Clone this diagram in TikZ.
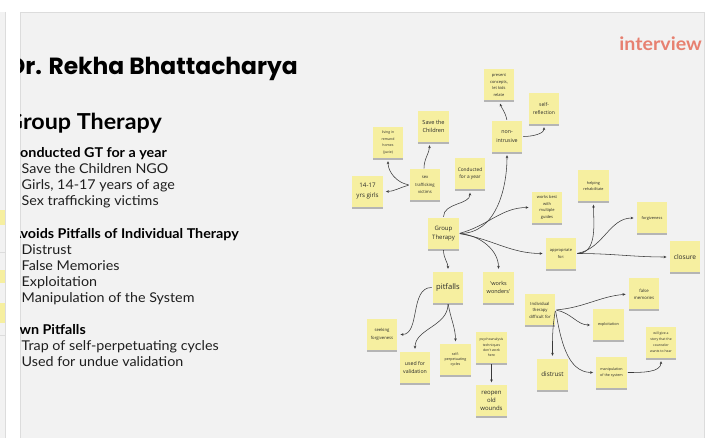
\documentclass[tikz,border=0pt]{standalone}
\usepackage{fontspec}
\setmainfont{Lato}[FakeStretch=1.06]
\newfontfamily\titlefont{Poppins}
\newfontfamily\notefont{Open Sans}
\usetikzlibrary{arrows.meta,shadows}

\definecolor{panel}{RGB}{242,242,242}
\definecolor{panelline}{RGB}{220,220,220}
\definecolor{stickyyellow}{RGB}{246,239,160}
\definecolor{inktext}{RGB}{40,40,40}
\definecolor{wirecol}{RGB}{58,58,58}
\definecolor{salmon}{RGB}{231,128,112}

\tikzset{
  note/.style={fill=stickyyellow, draw=none, minimum width=30.5pt, minimum height=31pt,
    inner sep=0pt, align=center, text=inktext,
    drop shadow={shadow xshift=0pt, shadow yshift=-1.6pt, opacity=0.25, fill=black}},
  fs/.style 2 args={font=\notefont\fontsize{#1}{#2}\selectfont},
  link/.style={draw=wirecol, line width=0.55pt, -{Stealth[length=3pt,width=2.6pt]},
    shorten >=3pt, shorten <=1pt},
  body/.style={anchor=base west, font=\fontsize{13.5}{16}\selectfont, text=black!88, inner sep=0pt},
  head/.style={anchor=base east, font=\bfseries\fontsize{13.5}{16}\selectfont, text=black, inner sep=0pt},
}

\begin{document}
\begin{tikzpicture}[x=1pt, y=-1pt]
  % page and board frames
  \fill[white] (0,0) rectangle (713,438);
  \useasboundingbox (0,0) rectangle (713,438);
  \fill[panel] (0,12) rectangle (5,438);
  \draw[panelline] (5,12) -- (5,438);
  \fill[stickyyellow] (0,210) rectangle (5,225);
  \fill[stickyyellow] (0,270) rectangle (5,283);
  \fill[stickyyellow] (0,303) rectangle (5,323);
  \draw[panelline] (0,252) -- (5,252);
  \draw[panelline] (0,335) -- (5,335);
  \fill[panel] (20,12) rectangle (704,438);
  \draw[panelline] (20,438) -- (20,12) -- (704,12) -- (704,438);

  \begin{scope}
    \clip (20.5,12.5) rectangle (703.5,438);
    \node[anchor=base east, font=\titlefont\bfseries\fontsize{23.4}{24}\selectfont, inner sep=0pt] (title) at (298,75) {Dr. Rekha Bhattacharya};
    \node[anchor=base east, font=\bfseries\fontsize{18.5}{19}\selectfont, text=salmon, inner sep=0pt] (tag) at (702,51) {interview};
    \node[anchor=base east, font=\bfseries\fontsize{22}{22}\selectfont, inner sep=0pt] (gthead) at (162,129.5) {Group Therapy};

    \node[head] (h1) at (167,158) {Conducted GT for a year};
    \node[body] (b11) at (21.5,174) {Save the Children NGO};
    \node[body] (b12) at (21.5,190) {Girls, 14-17 years of age};
    \node[body] (b13) at (21.5,206) {Sex trafficking victims};

    \node[head] (h2) at (239,239) {Avoids Pitfalls of Individual Therapy};
    \node[body] (b21) at (21.5,255) {Distrust};
    \node[body] (b22) at (21.5,271) {False Memories};
    \node[body] (b23) at (21.5,287) {Exploitation};
    \node[body] (b24) at (21.5,303) {Manipulation of the System};

    \node[head] (h3) at (86,334.5) {Own Pitfalls};
    \node[body] (b31) at (21.5,350.5) {Trap of self-perpetuating cycles};
    \node[body] (b32) at (21.5,366.5) {Used for undue validation};
  \end{scope}

  % sticky notes
  \node[note, fs={4}{6.5}] (present) at (499,85) {present\\concepts,\\let kids\\relate};
  \node[note, fs={5}{8.3}] (selfref) at (544,108.5) {self-\\reflection};
  \node[note, fs={5.3}{8.7}] (nonint) at (507,136.5) {non-\\intrusive};
  \node[note, fs={5.6}{8.3}] (savech) at (433.5,126.5) {Save the\\Children};
  \node[note, fs={3.5}{6.7}] (living) at (388,142.5) {living in\\remand\\homes\\(juvie)};
  \node[note, fs={4.2}{7.5}] (stv) at (425,185) {sex\\trafficking\\victims};
  \node[note, fs={6.2}{10}] (girls) at (367.5,191.5) {14-17\\yrs girls};
  \node[note, fs={4.8}{6.8}] (conducted) at (470,174) {Conducted\\for a year};
  \node[note, fs={4}{6.7}] (worksbest) at (547,207.5) {works best\\with\\multiple\\guides};
  \node[note, fs={3.8}{6}] (helping) at (593.5,186) {helping\\rehabilitate};
  \node[note, fs={3.9}{6}] (forgiveness) at (652,218) {forgiveness};
  \node[note, fs={4}{6.7}] (appropriate) at (561,253.5) {appropriate\\for:};
  \node[note, fs={6.6}{8}] (closure) at (685,257) {closure};
  \node[note, fs={6}{9}] (GT) at (443.5,233.5) {Group\\Therapy};
  \node[note, fs={7.6}{9}] (pitfalls) at (448,287.5) {pitfalls};
  \node[note, fs={5.5}{8.3}] (wonders) at (498.5,287.5) {\textquotesingle works\\wonders\textquotesingle};
  \node[note, fs={4.2}{7.3}] (seeking) at (382,334.5) {seeking\\forgiveness};
  \node[note, fs={5.2}{7.7}] (validation) at (415,367.5) {used for\\validation};
  \node[note, fs={3.6}{5}] (selfperp) at (455.5,360) {self-\\perpetuating\\cycles};
  \node[note, fs={3.4}{5.4}] (psycho) at (491.5,347.5) {psychoanalysis\\techniques\\don't work\\here};
  \node[note, fs={6}{8.3}] (reopen) at (491.5,401) {reopen\\old\\wounds};
  \node[note, fs={4.2}{6.5}] (individual) at (540,310) {Individual\\therapy\\difficult for};
  \node[note, fs={4.3}{7}] (falsemem) at (644,294) {false\\memories};
  \node[note, fs={3.8}{6}] (exploitation) at (608.5,325) {exploitation};
  \node[note, fs={3.4}{6}] (willgive) at (661,342.5) {will give a\\story that the\\counselor\\wants to hear};
  \node[note, fs={6.3}{8}] (distrust) at (552.5,374.5) {distrust};
  \node[note, fs={3.6}{5.3}] (manipulation) at (611.5,372.5) {manipulation\\of the system};

  % connectors
  \draw[link] (stv.west) to[out=195,in=0] (girls.east);
  \draw[link] (stv.west) to[out=170,in=-90] (living.south);
  \draw[link] ([xshift=-1pt]stv.north) to[out=90,in=-90] ([xshift=-4pt]savech.south);
  \draw[link] (GT.north) to[out=90,in=-90] (conducted.south);
  \draw[link] (GT.east) to[out=0,in=-90] (nonint.south);
  \draw[link] (nonint.north) to[out=100,in=-70] (present.south);
  \draw[link] (nonint.east) to[out=0,in=-90] (selfref.south);
  \draw[link] (GT.east) to[out=15,in=180] (worksbest.west);
  \draw[link] (GT.east) to[out=-10,in=180] (appropriate.west);
  \draw[link] (GT.east) to[out=-5,in=90] (wonders.north);
  \draw[link] (GT.south) to[out=-90,in=90] (pitfalls.north);
  \draw[link] (appropriate.east) to[out=0,in=-90] (helping.south);
  \draw[link] (appropriate.east) to[out=10,in=180] (forgiveness.west);
  \draw[link] (appropriate.east) to[out=0,in=180] (closure.west);
  \draw[link] (pitfalls.west) to[out=180,in=0] (seeking.east);
  \draw[link] (pitfalls.south) to[out=-90,in=90] (validation.north);
  \draw[link] (pitfalls.south) to[out=-80,in=90] (selfperp.north);
  \draw[link] (psycho.south) -- (reopen.north);
  \draw[link] (individual.east) to[out=5,in=185] (falsemem.west);
  \draw[link] (individual.east) to[out=-10,in=180] (exploitation.west);
  \draw[link] (individual.east) to[out=-100,in=90] (distrust.north);
  \draw[link] (individual.east) to[out=-80,in=180] (manipulation.west);
  \draw[link] (manipulation.east) to[out=0,in=-90] (willgive.south);
\end{tikzpicture}
\end{document}
